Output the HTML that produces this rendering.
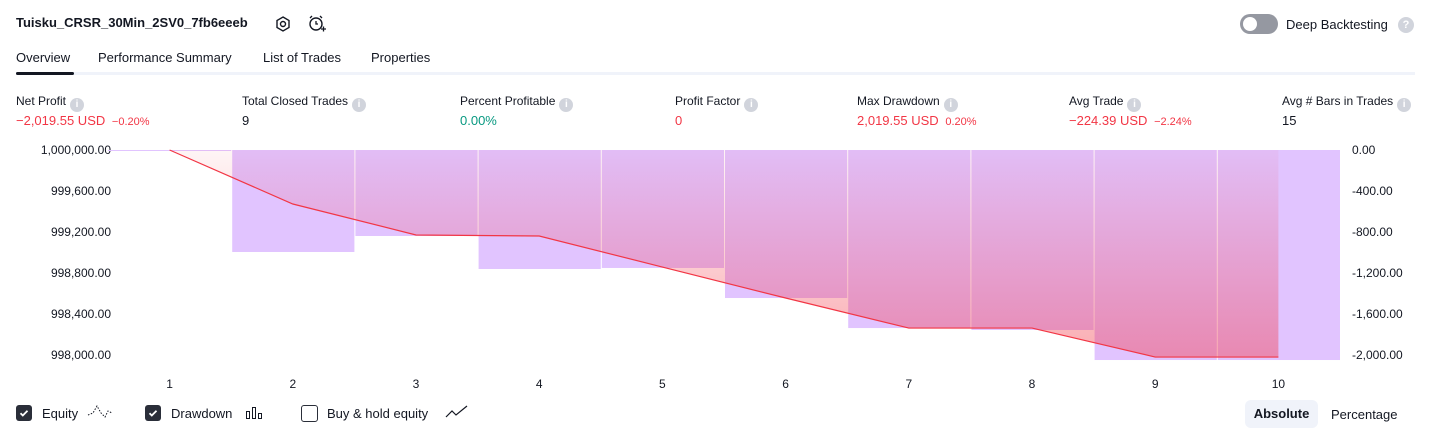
<!DOCTYPE html>
<html><head><meta charset="utf-8"><style>
body{margin:0;width:1431px;height:438px;background:#fff;font-family:"Liberation Sans",sans-serif;color:#131722;position:relative;overflow:hidden}
.a{position:absolute;white-space:nowrap}
.lbl{font-size:12px;color:#131722}
.val{font-size:13px}
.red{color:#f23645}.grn{color:#089981}
.info{display:inline-block;width:14px;height:14px;border-radius:7px;background:#d1d4dc;color:#fff;font-size:10px;text-align:center;line-height:14px;vertical-align:-2px;margin-left:4px;font-weight:bold}
.small{font-size:11px}
.cb{position:absolute;width:16px;height:16px;border-radius:3px;top:405px}
</style></head><body>
<div class="a" style="left:16px;top:15px;font-size:13px;font-weight:bold">Tuisku_CRSR_30Min_2SV0_7fb6eeeb</div>
<svg class="a" style="left:274px;top:15px" width="18" height="18"><polygon points="9,2 15,5.5 15,12.5 9,16 3,12.5 3,5.5" fill="none" stroke="#131722" stroke-width="1.4"/><circle cx="9" cy="9" r="2.5" fill="none" stroke="#131722" stroke-width="1.4"/></svg>
<svg class="a" style="left:307px;top:14px" width="20" height="20"><circle cx="9" cy="10" r="6" fill="none" stroke="#131722" stroke-width="1.4"/><path d="M9 7v3h2M3 4l2-2M15 4l-2-2M14 15h5M16.5 12.5v5" stroke="#131722" stroke-width="1.3" fill="none"/></svg>
<div class="a" style="left:1240px;top:14px;width:38px;height:20px;border-radius:10px;background:#9598a1"><div style="position:absolute;left:3px;top:3px;width:14px;height:14px;border-radius:7px;background:#fff"></div></div>
<div class="a" style="left:1286px;top:17px;font-size:13px">Deep Backtesting</div>
<div class="a" style="left:1398px;top:17px;width:16px;height:16px;border-radius:8px;background:#d1d4dc;color:#fff;font-size:11px;text-align:center;line-height:16px;font-weight:bold">?</div>

<div class="a" style="left:16px;top:50px;font-size:13px">Overview</div>
<div class="a" style="left:98px;top:50px;font-size:13px">Performance Summary</div>
<div class="a" style="left:263px;top:50px;font-size:13px">List of Trades</div>
<div class="a" style="left:371px;top:50px;font-size:13px">Properties</div>
<div class="a" style="left:16px;top:72px;width:1399px;height:3px;background:#f0f3fa"></div>
<div class="a" style="left:16px;top:72px;width:58px;height:3px;border-radius:2px;background:#131722"></div>

<div class="a lbl" style="left:16px;top:94px">Net Profit<span class="info">i</span></div>
<div class="a val red" style="left:16px;top:113px">−2,019.55 USD <span class="small">&nbsp;−0.20%</span></div>
<div class="a lbl" style="left:242px;top:94px">Total Closed Trades<span class="info">i</span></div>
<div class="a val" style="left:242px;top:113px">9</div>
<div class="a lbl" style="left:460px;top:94px">Percent Profitable<span class="info">i</span></div>
<div class="a val grn" style="left:460px;top:113px">0.00%</div>
<div class="a lbl" style="left:675px;top:94px">Profit Factor<span class="info">i</span></div>
<div class="a val red" style="left:675px;top:113px">0</div>
<div class="a lbl" style="left:857px;top:94px">Max Drawdown<span class="info">i</span></div>
<div class="a val red" style="left:857px;top:113px">2,019.55 USD <span class="small">&nbsp;0.20%</span></div>
<div class="a lbl" style="left:1069px;top:94px">Avg Trade<span class="info">i</span></div>
<div class="a val red" style="left:1069px;top:113px">−224.39 USD <span class="small">&nbsp;−2.24%</span></div>
<div class="a lbl" style="left:1282px;top:94px">Avg # Bars in Trades<span class="info">i</span></div>
<div class="a val" style="left:1282px;top:113px">15</div>

<svg id="chart" class="a" style="left:0;top:0" width="1431" height="400"></svg>

<div class="cb" style="left:16px;background:#2a2e39"><svg width="16" height="16"><path d="M4.5 8.2l2.3 2.3 4.7-4.7" stroke="#fff" stroke-width="1.8" fill="none"/></svg></div>
<div class="a" style="left:42px;top:406px;font-size:13px">Equity</div>
<svg class="a" style="left:87px;top:403px" width="26" height="18"><path d="M1 12l5-2 4-7 4 7 4 4 3-6 4 2" stroke="#131722" stroke-dasharray="1.5 1.5" fill="none"/></svg>
<div class="cb" style="left:145px;background:#2a2e39"><svg width="16" height="16"><path d="M4.5 8.2l2.3 2.3 4.7-4.7" stroke="#fff" stroke-width="1.8" fill="none"/></svg></div>
<div class="a" style="left:171px;top:406px;font-size:13px">Drawdown</div>
<svg class="a" style="left:245px;top:405px" width="22" height="16"><rect x="1.5" y="6.5" width="3" height="7" fill="none" stroke="#131722"/><rect x="7.5" y="2.5" width="3" height="11" fill="none" stroke="#131722"/><rect x="13.5" y="8.5" width="3" height="5" fill="none" stroke="#131722"/></svg>
<div class="cb" style="left:301px;border:1.3px solid #2a2e39;width:15px;height:15px"></div>
<div class="a" style="left:327px;top:406px;font-size:13px">Buy &amp; hold equity</div>
<svg class="a" style="left:445px;top:404px" width="24" height="16"><path d="M1 13l6-6 4 4 11-9" stroke="#131722" stroke-width="1.2" fill="none"/></svg>
<div class="a" style="left:1245px;top:400px;width:73px;height:28px;border-radius:6px;background:#f0f3fa;font-size:13px;font-weight:bold;text-align:center;line-height:28px">Absolute</div>
<div class="a" style="left:1331px;top:407px;font-size:13px">Percentage</div>

<script>
const trades=[1,2,3,4,5,6,7,8,9,10];
const equity=[1000000,999473,999171,999161,998858,998556,998263,998263,997980,997980];
const drawdown=[0,-995,-839,-1161,-1151,-1444,-1737,-1756,-2049,-2049];
const leftTicks=[1000000,999600,999200,998800,998400,998000];
const rightTicks=[0,-400,-800,-1200,-1600,-2000];
const NS="http://www.w3.org/2000/svg";
const svg=document.getElementById('chart');
const X0=108,X1=1340,bw=(X1-X0)/trades.length;
const xc=i=>X0+bw*(i+0.5);
const yL=v=>150+(1000000-v)*205/2000;
const yR=v=>150+(-v)*205/2000;
function mk(t,a){const e=document.createElementNS(NS,t);for(const k in a)e.setAttribute(k,a[k]);svg.appendChild(e);return e;}
const defs=mk('defs',{});
defs.innerHTML='<linearGradient id="eg" gradientUnits="userSpaceOnUse" x1="0" y1="150" x2="0" y2="360"><stop offset="0" stop-color="#f23645" stop-opacity="0.05"/><stop offset="1" stop-color="#f23645" stop-opacity="0.42"/></linearGradient>';
const fmt=v=>v.toLocaleString('en-US',{minimumFractionDigits:2,maximumFractionDigits:2});
leftTicks.forEach(v=>{const t=mk('text',{x:111,y:yL(v)+4,'text-anchor':'end','font-size':12,fill:'#131722','font-family':'Liberation Sans'});t.textContent=fmt(v);

});
rightTicks.forEach(v=>{const t=mk('text',{x:1352,y:yR(v)+4,'font-size':12,fill:'#131722','font-family':'Liberation Sans'});t.textContent=fmt(v).replace('-','-');

});
trades.forEach((n,i)=>{const t=mk('text',{x:xc(i),y:388,'text-anchor':'middle','font-size':12,fill:'#131722','font-family':'Liberation Sans'});t.textContent=n;

});
drawdown.forEach((v,i)=>{const y=yR(v);const r=mk('rect',{x:X0+bw*i+(i?1:0),y:150,width:bw-(i?1:0),height:Math.max(1,y-150),fill:'#e1c4ff'});

});
let pts=equity.map((v,i)=>xc(i)+','+yL(v)).join(' ');
const area=mk('polygon',{points:xc(0)+',150 '+pts+' '+xc(equity.length-1)+',150',fill:'url(#eg)'});


const line=mk('polyline',{points:pts,fill:'none',stroke:'#f23645','stroke-width':1.2});


</script>
</body></html>
